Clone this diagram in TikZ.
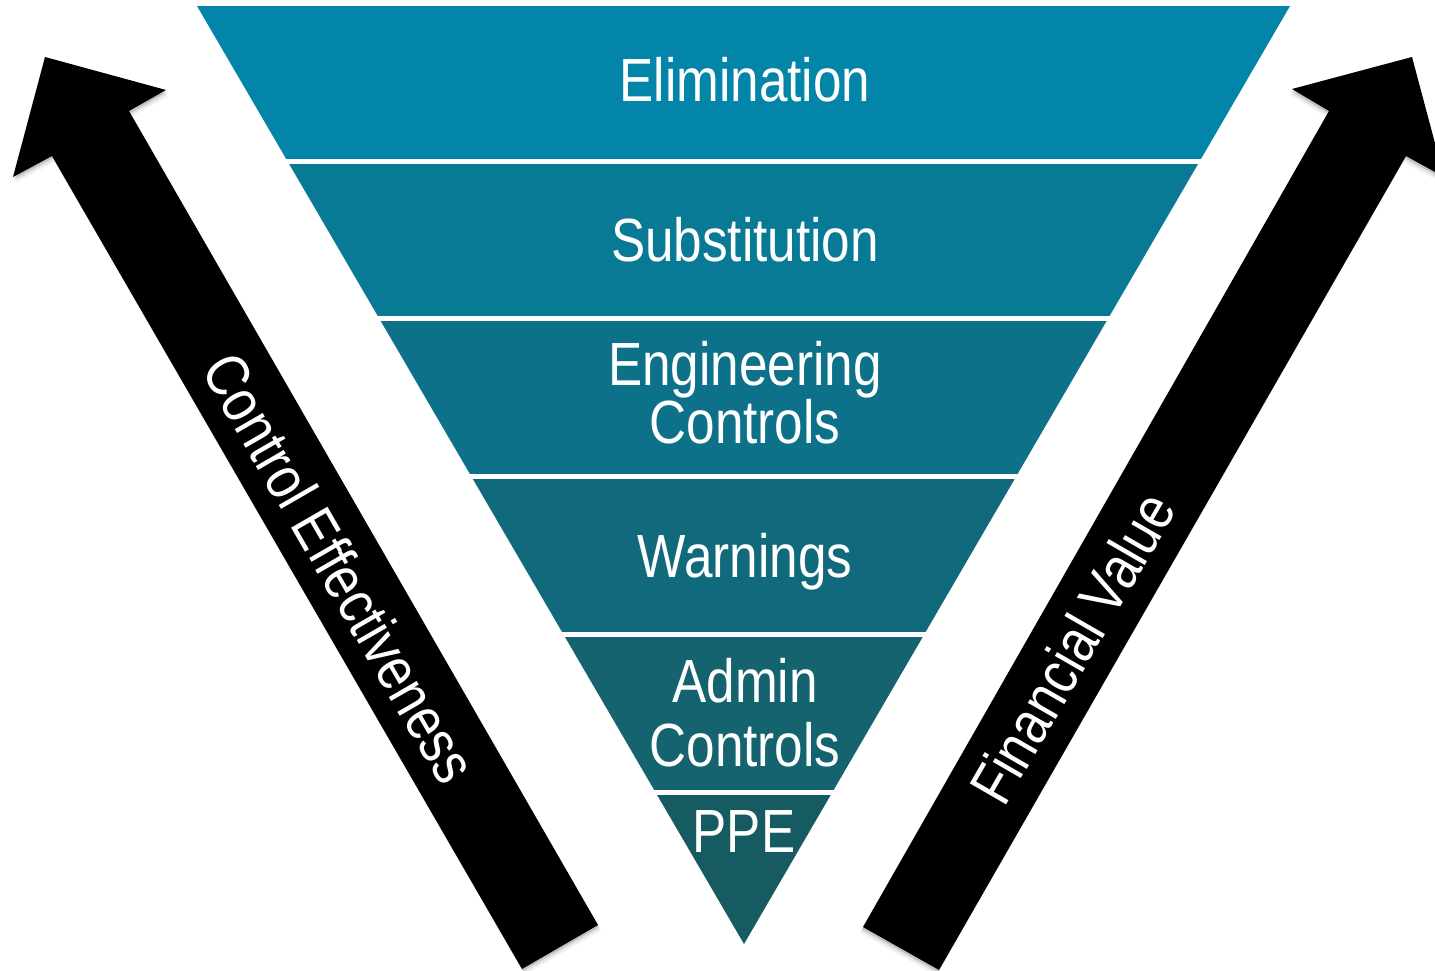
\documentclass[tikz,border=0pt]{standalone}
\usepackage{fontspec}
\setmainfont{Liberation Sans}[FakeStretch=0.84]
\definecolor{bandA}{RGB}{3,132,169}
\definecolor{bandB}{RGB}{8,122,150}
\definecolor{bandC}{RGB}{13,114,137}
\definecolor{bandD}{RGB}{17,106,123}
\definecolor{bandE}{RGB}{20,99,111}
\definecolor{bandF}{RGB}{23,91,98}
\begin{document}
\begin{tikzpicture}[x=1pt,y=-1pt,
  bandlabel/.style={text=white,font=\fontsize{61}{58}\selectfont,inner sep=0pt,anchor=base},
  arrowlabel/.style={text=white,font=\fontsize{61}{58}\selectfont,inner sep=0pt,anchor=center},
  arrowfill/.style={fill=black},
  shadowfill/.style={fill=black}]
\useasboundingbox (0,0) rectangle (1435,971);
% inverted triangle bands
\begin{scope}
\clip (197,6) -- (1290,6) -- (744,944) -- cycle;
\fill[bandA] (150,6) rectangle (1300,159);
\fill[bandB] (150,164) rectangle (1300,316);
\fill[bandC] (150,321) rectangle (1300,474);
\fill[bandD] (150,479) rectangle (1300,632);
\fill[bandE] (150,637) rectangle (1300,790);
\fill[bandF] (150,795) rectangle (1300,950);
\end{scope}
% shadows of arrows
\foreach \dx/\dy/\op in {1/2/0.14, 2/4/0.08, 3/6/0.04} {
  \fill[shadowfill,opacity=\op,shift={(\dx,\dy)}] (45,57) -- (166,90) -- (129,111) -- (598,925) -- (522,969) -- (52,156) -- (13,177) -- cycle;
  \fill[shadowfill,opacity=\op,shift={(-\dx,\dy)}] (1412,57) -- (1292,89) -- (1329,111) -- (863,927) -- (939,970) -- (1406,156) -- (1444,177) -- cycle;
}
% arrows
\fill[arrowfill] (45,57) -- (166,90) -- (129,111) -- (598,925) -- (522,969) -- (52,156) -- (13,177) -- cycle;
\fill[arrowfill] (1412,57) -- (1292,89) -- (1329,111) -- (863,927) -- (939,970) -- (1406,156) -- (1444,177) -- cycle;
% band labels
\node[bandlabel] (elim) at (745,102) {Elimination};
\node[bandlabel] (subst) at (745,261) {Substitution};
\node[bandlabel] (eng1) at (745,385) {Engineering};
\node[bandlabel] (eng2) at (745,443) {Controls};
\node[bandlabel] (warn) at (745,577) {Warnings};
\node[bandlabel] (adm1) at (745,702) {Admin};
\node[bandlabel] (adm2) at (745,766) {Controls};
\node[bandlabel] (ppe) at (744,852) {PPE};
% arrow labels
\node[arrowlabel,rotate=-60] (ctrl) at (340,568) {Control Effectiveness};
\node[arrowlabel,rotate=60] (fin) at (1072,648) {Financial Value};
\end{tikzpicture}
\end{document}
